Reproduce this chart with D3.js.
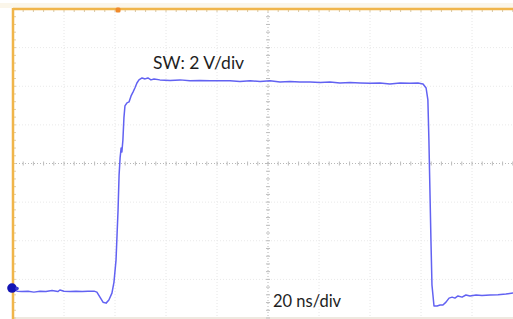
<!DOCTYPE html>
<html>
<head>
<meta charset="utf-8">
<script src="https://cdn.jsdelivr.net/npm/d3@7"></script>
<style>
  body { margin: 0; background: #fff; }
  svg { display: block; }
  .label { font-family: Lato, "Open Sans", sans-serif; fill: #1e1e1e; }
</style>
</head>
<body>
<script>
// scope settings: 20 ns/div, 2 V/div, ground marker 3.22 div below center
var timeDiv = 20, voltDiv = 2;
var timeTicks = [0, 20, 40, 60, 80, 100, 120, 140, 160, 180, 200];
var voltTicks = [-1.55, 0.45, 2.45, 4.45, 6.45, 8.45, 10.45, 12.45, 14.45];
var triggerTime = 41.2, groundLevel = 0;

// SW node trace (ns, V)
var timeNs = [0.4, 1.6, 3.5, 5.9, 8.2, 10.6, 12.9, 15.3, 17.6, 18.4, 20.0, 22.4, 24.7, 27.1, 29.4, 31.8,
  32.9, 34.1, 35.3, 36.5, 37.6, 38.8, 39.6, 40.4, 40.8, 41.2, 41.6, 42.0, 42.4, 42.7, 43.1, 43.5, 43.9,
  44.7, 45.5, 46.3, 47.1, 47.8, 48.6, 49.4, 50.6, 51.8, 52.9, 54.1, 55.3, 57.6, 61.6, 65.5, 69.4, 73.3,
  77.3, 81.2, 85.1, 89.0, 93.0, 96.9, 100.8, 104.7, 108.6, 112.5, 116.5, 120.4, 124.3, 128.2, 132.2,
  136.1, 140.0, 143.9, 147.8, 151.8, 155.7, 158.8, 160.8, 162.0, 162.7, 163.1, 163.5, 163.9, 164.3,
  165.1, 166.3, 167.5, 168.6, 169.8, 171.0, 172.2, 173.3, 174.5, 176.1, 177.6, 179.2, 181.6, 183.9,
  187.1, 190.2, 193.3, 196.1];
var swVolts = [-0.05, -0.16, -0.18, -0.16, -0.21, -0.16, -0.18, -0.13, -0.18, -0.10, -0.16, -0.18, -0.16, -0.18, -0.16, -0.16,
  -0.21, -0.47, -0.73, -0.78, -0.62, -0.26, 0.31, 1.45, 2.75, 4.04, 5.85, 6.74, 7.25, 7.05, 7.67, 8.81, 9.43,
  9.59, 9.64, 9.95, 10.16, 10.36, 10.62, 10.78, 10.88, 10.83, 10.88, 10.78, 10.83, 10.78, 10.75, 10.78, 10.73, 10.75,
  10.73, 10.73, 10.73, 10.70, 10.73, 10.70, 10.73, 10.67, 10.70, 10.67, 10.67, 10.65, 10.67, 10.62, 10.65,
  10.62, 10.60, 10.62, 10.57, 10.62, 10.60, 10.62, 10.57, 10.36, 9.74, 7.67, 5.08, 2.49, 0.16,
  -0.93, -0.93, -0.88, -0.88, -0.73, -0.52, -0.47, -0.52, -0.41, -0.47, -0.36, -0.41, -0.36, -0.39,
  -0.36, -0.34, -0.31, -0.26];

var W = 513, H = 319;
var svg = d3.select("body").append("svg").attr("width", W).attr("height", H);

var x = d3.scaleLinear().domain([0, 200]).range([13, 523]);
var y = d3.scaleLinear().domain([-1.55, 14.45]).range([318, 9]);

// faint band above the top border
svg.append("rect").attr("x", 0).attr("y", 3).attr("width", W).attr("height", 5).attr("fill", "#fbf6ea");

// grid
var grid = svg.append("g");
grid.selectAll(".vg").data(timeTicks.slice(1, -1)).enter().append("line")
  .attr("x1", function(d) { return x(d); }).attr("x2", function(d) { return x(d); })
  .attr("y1", y(14.45)).attr("y2", y(-1.55))
  .attr("stroke", function(d) { return d == 100 ? "#b8b8b8" : "#e6e6e6"; })
  .attr("stroke-dasharray", "1,2");
grid.selectAll(".hg").data(voltTicks.slice(1, -1)).enter().append("line")
  .attr("x1", x(0)).attr("x2", W)
  .attr("y1", function(d) { return y(d); }).attr("y2", function(d) { return y(d); })
  .attr("stroke", function(d) { return d == 6.45 ? "#b8b8b8" : "#e9e9e9"; })
  .attr("stroke-dasharray", "1,2");
// bottom edge
grid.append("line").attr("x1", x(0)).attr("x2", W).attr("y1", y(-1.55)).attr("y2", y(-1.55))
  .attr("stroke", "#e8e2d6").attr("stroke-width", 1.5);

// minor ticks on center axes and borders (5 per division)
var minorT = d3.range(0, 200.01, timeDiv / 5);
var minorV = d3.range(-1.55, 14.46, voltDiv / 5);
grid.selectAll(".mt").data(minorT).enter().append("line")
  .attr("x1", function(d) { return x(d); }).attr("x2", function(d) { return x(d); })
  .attr("y1", y(6.45) - 2).attr("y2", y(6.45) + 2).attr("stroke", "#bdbdbd");
grid.selectAll(".mv").data(minorV).enter().append("line")
  .attr("y1", function(d) { return y(d); }).attr("y2", function(d) { return y(d); })
  .attr("x1", x(100) - 2).attr("x2", x(100) + 2).attr("stroke", "#bdbdbd");
grid.selectAll(".tt").data(minorT).enter().append("line")
  .attr("x1", function(d) { return x(d); }).attr("x2", function(d) { return x(d); })
  .attr("y1", y(14.45)).attr("y2", y(14.45) + 3).attr("stroke", "#d8c9a8");
grid.selectAll(".lt").data(minorV).enter().append("line")
  .attr("y1", function(d) { return y(d); }).attr("y2", function(d) { return y(d); })
  .attr("x1", x(0)).attr("x2", x(0) + 3).attr("stroke", "#e3cfa4");

// orange frame
svg.append("line").attr("x1", x(0)).attr("x2", W).attr("y1", y(14.45)).attr("y2", y(14.45))
  .attr("stroke", "#f0b54a").attr("stroke-width", 2.5);
svg.append("line").attr("x1", x(0)).attr("x2", x(0)).attr("y1", y(14.45) - 1).attr("y2", H)
  .attr("stroke", "#f0b54a").attr("stroke-width", 2.5);

// trigger position marker
svg.append("rect").attr("x", x(triggerTime) - 2.5).attr("y", y(14.45) - 1.5)
  .attr("width", 5).attr("height", 5).attr("rx", 1.5).attr("fill", "#f08a2a");

// trace
var pts = timeNs.map(function(t, i) { return [t, swVolts[i]]; });
svg.append("path").datum(pts)
  .attr("fill", "none").attr("stroke", "#6262f2").attr("stroke-width", 1.5)
  .attr("stroke-linejoin", "round")
  .attr("d", d3.line().x(function(d) { return x(d[0]); }).y(function(d) { return y(d[1]); }));

// ground level marker
svg.append("circle").attr("cx", x(0) - 1).attr("cy", y(groundLevel)).attr("r", 4.8).attr("fill", "#1414b4");
svg.append("circle").attr("cx", x(0) + 4).attr("cy", y(groundLevel) + 0.5).attr("r", 1.8).attr("fill", "#3a3ad0");

// labels
svg.append("text").attr("class", "label").attr("x", 153).attr("y", 69)
  .style("font-size", "17.5px").text("SW: 2 V/div");
svg.append("text").attr("class", "label").attr("x", 273).attr("y", 307)
  .style("font-size", "16.5px").text("20 ns/div");
</script>
</body>
</html>
